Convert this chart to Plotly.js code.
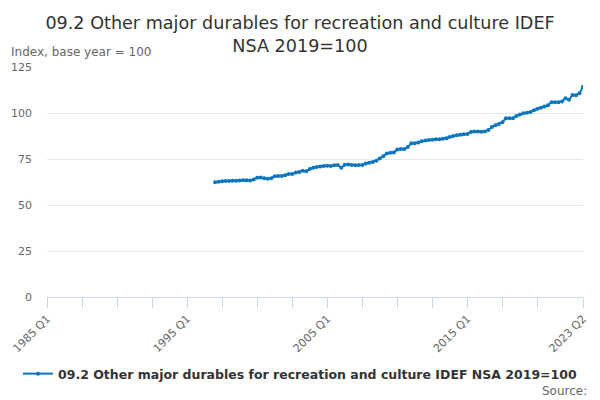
<!DOCTYPE html>
<html>
<head>
<meta charset="utf-8">
<script src="https://cdn.plot.ly/plotly-3.0.1.min.js"></script>
<style>
  html, body { margin: 0; padding: 0; background: #fff; }
  #chart { width: 600px; height: 400px; }
</style>
</head>
<body>
<div id="chart"></div>
<script>
// quarter categories on the axis: 1985 Q1 .. 2023 Q2
const firstYear = 1985
const lastYear = 2023
const lastQuarter = 2
const quarters = []
for (let y = firstYear; y <= lastYear; y++) {
  for (let q = 1; q <= 4; q++) {
    if (y === lastYear && q > lastQuarter) break
    quarters.push(y + ' Q' + q)
  }
}

// the series starts in 1997 Q1
const seriesStart = '1997 Q1'
const seriesName = '09.2 Other major durables for recreation and culture IDEF NSA 2019=100'
const values = [
  62.4, 62.7, 62.9, 63.0,
  63.1, 63.2, 63.2, 63.3,
  63.4, 63.5, 63.3, 63.9,
  64.8, 64.9, 64.5, 64.3,
  64.6, 65.6, 65.8, 65.7,
  66.2, 66.8, 66.9, 67.6,
  68.0, 68.6, 68.3, 69.6,
  70.2, 70.6, 70.9, 71.2,
  71.3, 71.2, 71.6, 71.8,
  70.3, 71.9, 72.0, 71.7,
  71.6, 71.8, 71.7, 72.6,
  73.0, 73.4, 74.1, 75.3,
  76.5, 78.0, 78.4, 78.6,
  80.2, 80.5, 80.4, 81.5,
  83.5, 83.6, 83.9, 84.6,
  85.0, 85.3, 85.5, 85.7,
  85.8, 86.0, 86.3, 87.0,
  87.5, 87.9, 88.2, 88.4,
  88.6, 89.7, 89.9, 90.0,
  89.8, 90.0, 90.8, 92.4,
  93.4, 94.0, 95.0, 97.1,
  97.2, 97.1, 98.4, 99.2,
  99.8, 100.1, 100.5, 101.5,
  102.3, 102.8, 103.5, 104.2,
  105.8, 105.9, 105.9, 106.2,
  108.0, 107.2, 109.8, 109.6,
  110.8, 114.3
]

const labelledTicks = ['1985 Q1', '1995 Q1', '2005 Q1', '2015 Q1', '2023 Q2']
const yTicks = [0, 25, 50, 75, 100, 125]

const startIndex = quarters.indexOf(seriesStart)
const xs = values.map((v, i) => startIndex + i)

// a tick every 10 quarters, plus one on the last quarter
const tickvals = []
for (let i = 0; i < quarters.length - 10; i += 10) tickvals.push(i)
tickvals.push(quarters.length - 1)
const ticktext = tickvals.map(i => labelledTicks.includes(quarters[i]) ? quarters[i] : '')

const blue = '#0a76c0'
const font = 'DejaVu Sans, sans-serif'

Plotly.newPlot('chart', [
  {
    name: seriesName,
    type: 'scatter',
    mode: 'lines+markers',
    x: xs,
    y: values,
    text: xs.map(i => quarters[i]),
    line: { color: blue, width: 2 },
    marker: { color: blue, size: 4 }
  }
], {
  width: 600,
  height: 400,
  margin: { l: 47, r: 17, t: 67, b: 103 },
  paper_bgcolor: '#fff',
  plot_bgcolor: '#fff',
  font: { family: font, color: '#666', size: 11 },
  title: {
    text: '09.2 Other major durables for recreation and culture IDEF<br>NSA 2019=100',
    font: { family: font, size: 17.6, color: '#333' },
    x: 0.5,
    xanchor: 'center',
    yref: 'container',
    y: 1 - 29 / 400,
    yanchor: 'middle',
    automargin: false
  },
  showlegend: true,
  legend: {
    orientation: 'h',
    xref: 'container',
    x: 18 / 600,
    xanchor: 'left',
    yref: 'container',
    y: 26 / 400,
    yanchor: 'middle',
    font: { family: font, size: 12.5, color: '#333', weight: 'bold' }
  },
  xaxis: {
    type: 'linear',
    automargin: false,
    range: [0, quarters.length - 1],
    tickmode: 'array',
    tickvals: tickvals,
    ticktext: ticktext,
    tickangle: -45,
    ticks: 'outside',
    ticklen: 10,
    tickcolor: '#ccd6eb',
    showline: true,
    linecolor: '#ccd6eb',
    linewidth: 1,
    showgrid: false,
    zeroline: false,
    tickfont: { family: font, size: 11, color: '#666' }
  },
  yaxis: {
    automargin: false,
    range: [0, 125],
    tickmode: 'array',
    tickvals: yTicks,
    showgrid: true,
    gridcolor: '#e6e6e6',
    zeroline: false,
    showline: false,
    ticks: '',
    ticklabelstandoff: 14,
    tickfont: { family: font, size: 11, color: '#666' }
  },
  annotations: [
    {
      text: 'Index, base year = 100',
      xref: 'paper', yref: 'paper',
      x: -38 / 536, y: 1 + 15 / 230,
      xanchor: 'left', yanchor: 'middle',
      showarrow: false,
      font: { family: font, size: 12, color: '#666' }
    },
    {
      text: 'Source:',
      xref: 'paper', yref: 'paper',
      x: 1 + 6 / 536, y: -94 / 230,
      xanchor: 'right', yanchor: 'middle',
      showarrow: false,
      font: { family: font, size: 12, color: '#666' }
    }
  ]
}, { displayModeBar: false, staticPlot: true })
</script>
</body>
</html>
